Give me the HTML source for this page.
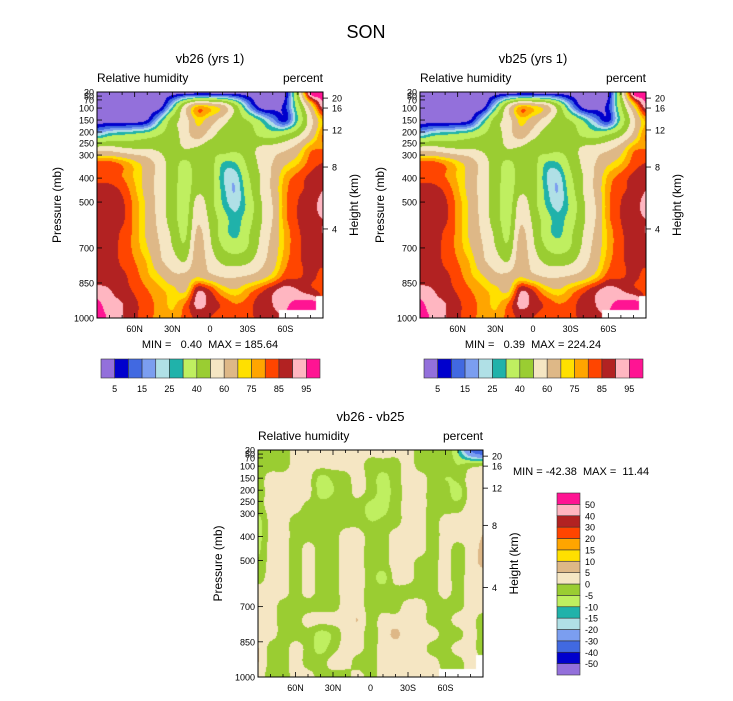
<!DOCTYPE html>
<html><head><meta charset="utf-8"><style>
html,body{margin:0;padding:0;background:#fff;}
#wrap{position:relative;width:733px;height:701px;overflow:hidden;font-family:"Liberation Sans",sans-serif;}
canvas{position:absolute;}
svg{position:absolute;left:0;top:0;}
text{white-space:pre;}
</style></head><body>
<div id="wrap">
<canvas id="c1" width="226" height="226" style="left:97px;top:92px"></canvas>
<canvas id="c2" width="226" height="226" style="left:420px;top:92px"></canvas>
<canvas id="c3" width="225" height="227" style="left:258px;top:450px"></canvas>
<svg id="s" width="733" height="701"></svg>
</div>
<script>
// ---- data ----
const latTicks=["60N","30N","0","30S","60S"];
const latTickVals=[60,30,0,-30,-60];
const presLabels=["30","50","70","100","150","200","250","300","400","500","700","850","1000"];
const presFrac=[0,0.018,0.035,0.071,0.124,0.177,0.226,0.279,0.381,0.487,0.690,0.845,1];
const hgtLabels=["20","16","12","8","4"];
const hgtFrac=[0.027,0.071,0.168,0.332,0.606];
const rhLevels=[5,10,15,20,25,30,40,50,60,70,75,80,85,90,95];
const rhColors=["#9370db","#0000cd","#4169e1","#7b9ef0","#b0e0e6","#20b2aa","#bfef60","#9acd32","#f5e6c3","#deb887","#ffe000","#ffa500","#ff4500","#b22222","#ffb6c1","#ff1493"];
const rhCbLabels=["5","15","25","40","60","75","85","95"];
const dLevels=[-50,-40,-30,-20,-15,-10,-5,0,5,10,15,20,30,40,50];
const dCbLabels=["-50","-40","-30","-20","-15","-10","-5","0","5","10","15","20","30","40","50"];
const statsA="MIN =   0.40  MAX = 185.64";
const statsB="MIN =   0.39  MAX = 224.24";
const statsD="MIN = -42.38  MAX =  11.44";
const N=null;
const rhA=[
[2,2,2,2,2,2,2,2,2,2,2,2,2,2,2,3,45,97,97],
[2,2,2,2,2,3,25,55,75,72,65,45,20,3,2,8,35,65,92],
[2,2,2,2,6,25,45,55,72,65,55,45,40,30,18,8,30,55,75],
[22,28,30,32,35,40,45,55,65,55,45,42,45,38,35,40,48,62,80],
[55,55,52,50,50,48,45,50,48,42,45,42,45,52,55,58,65,78,80],
[82,82,78,72,65,55,45,38,45,45,30,30,42,52,60,68,74,82,85],
[84,83,80,74,66,55,45,36,44,45,26,22,38,50,62,76,82,86,88],
[86,87,84,76,66,55,45,34,48,44,28,20,35,50,62,78,84,86,90],
[86,88,86,78,68,55,45,34,55,45,30,23,32,48,60,78,85,87,92],
[87,88,86,78,68,56,45,36,58,48,35,27,35,48,60,78,85,88,90],
[87,87,84,78,68,58,48,38,62,50,35,28,38,50,62,76,84,87,90],
[87,86,84,78,70,60,50,42,65,52,40,35,40,52,64,76,84,86,88],
[88,87,84,80,74,62,55,50,66,56,48,46,48,56,66,78,84,86,86],
[86,87,86,82,76,70,62,62,68,62,58,58,60,64,72,82,84,86,84],
[92,90,87,84,80,76,72,68,88,84,74,70,76,82,88,92,90,86,84],
[96,92,90,86,82,78,74,80,92,88,84,80,82,88,90,94,96,97,N],
[97,94,90,86,82,78,76,82,86,85,82,82,84,86,88,N,N,N,N]];
const rhB=[
[2,2,2,2,2,2,2,2,2,2,2,2,2,2,2,3,45,97,97],
[2,2,2,2,2,3,25,55,75,72,65,45,20,3,2,8,38,68,93],
[2,2,2,2,6,25,45,55,72,65,55,45,40,30,18,8,32,56,76],
[22,28,30,32,35,40,45,55,65,55,45,42,45,38,35,40,48,62,80],
[55,55,52,50,50,48,45,50,48,42,45,42,45,52,55,58,65,78,80],
[82,82,78,72,65,55,45,38,45,45,30,30,42,52,60,68,74,82,85],
[84,83,80,74,66,55,45,36,44,45,26,22,38,50,62,76,82,86,88],
[86,87,84,76,66,55,45,34,48,44,28,20,35,50,62,78,84,86,90],
[86,88,86,78,68,55,45,34,55,45,30,23,32,48,60,78,85,87,92],
[87,88,86,78,68,56,45,36,58,48,35,27,35,48,60,78,85,88,90],
[87,87,84,78,68,58,48,38,62,50,35,28,38,50,62,76,84,87,90],
[87,86,84,78,70,60,50,42,65,52,40,35,40,52,64,76,84,86,88],
[88,87,84,80,74,62,55,50,66,56,48,46,48,56,66,78,84,86,86],
[86,87,86,82,76,70,62,62,68,62,58,58,60,64,72,82,84,86,84],
[92,90,87,84,80,76,72,68,88,84,74,70,76,82,88,92,90,86,84],
[96,92,90,86,82,78,74,80,92,88,84,80,82,88,90,94,96,97,N],
[97,94,90,86,82,78,76,82,86,85,82,82,84,86,88,N,N,N,N]];
const diff=[
[-2,-2,-2,2,2,2,2,2,2,2,2,2,2,-2,-2,-2,-10,-30,-40],
[-2,-2,-2,2,2,2,2,2,2,-2,-2,-2,2,-2,-2,-2,-5,-3,-2],
[-2,2,2,2,2,-7,-4,-2,2,-2,-7,-2,2,2,-2,-5,-4,2,2],
[-2,2,2,4,2,-7,-5,-2,1,-2,-7,-3,2,2,-2,-2,-8,2,2],
[-2,2,2,2,-2,-2,-2,-2,-2,-7,-7,-2,2,2,-2,-2,-2,2,4],
[-7,2,2,-2,-2,-2,-2,-2,-2,-5,-4,-2,2,2,-2,2,2,2,4],
[-7,2,2,-2,-2,-2,-2,2,2,-2,-2,2,2,2,-2,2,2,2,5],
[-6,2,2,-2,2,-2,-2,2,2,-2,-2,2,2,2,-2,2,-2,2,6],
[-4,2,2,-2,2,-2,-2,2,2,-2,-2,2,2,-2,-2,2,-2,2,6],
[-2,2,2,-2,2,-2,-2,2,2,-2,-7,2,2,-2,-2,2,-2,2,2],
[2,2,2,-2,2,-2,-2,2,2,-2,-2,-2,-2,-2,-2,2,-2,2,2],
[2,2,-2,-2,-2,-2,-2,2,2,-2,-2,-2,2,2,-2,-2,-2,2,2],
[2,2,-2,-2,2,2,2,2,5,-2,2,2,2,2,-2,-2,2,2,-2],
[2,2,-2,-2,-2,-7,-4,2,2,-2,2,6,2,2,2,-2,-2,2,-2],
[5,-2,-2,2,-2,-7,-2,2,2,-2,2,2,2,2,-2,-2,2,2,-2],
[5,-2,-2,2,-2,-2,2,2,-2,-2,2,2,2,2,2,-2,-2,2,N],
[2,-2,-2,2,2,-2,-2,-2,2,-2,2,2,2,2,2,N,N,N,N]];

// ---- render fields ----
function hex(c){return [parseInt(c.slice(1,3),16),parseInt(c.slice(3,5),16),parseInt(c.slice(5,7),16)];}
function classify(v,levels){let i=0;while(i<levels.length&&v>=levels[i])i++;return i;}
function cr(t){t=Math.abs(t);return t<1?1.5*t*t*t-2.5*t*t+1:(t<2?-0.5*t*t*t+2.5*t*t-4*t+2:0);}
function drawField(id,grid,levels,colors){
  const cv=document.getElementById(id),ctx=cv.getContext('2d');
  const W=cv.width,H=cv.height,img=ctx.createImageData(W,H);
  const R=grid.length,C=grid[0].length,rgb=colors.map(hex);
  for(let y=0;y<H;y++)for(let x=0;x<W;x++){
    const gx=x/(W-1)*(C-1),gy=y/(H-1)*(R-1);
    const nx=Math.round(gx),ny=Math.round(gy);
    const p=(y*W+x)*4;
    if(grid[ny][nx]===null){img.data[p]=255;img.data[p+1]=255;img.data[p+2]=255;img.data[p+3]=255;continue;}
    const x0=Math.floor(gx),y0=Math.floor(gy);let s=0,w=0;
    for(let j=y0-1;j<=y0+2;j++)for(let i=x0-1;i<=x0+2;i++){
      const ii=Math.max(0,Math.min(C-1,i)),jj=Math.max(0,Math.min(R-1,j));
      const v=grid[jj][ii];if(v===null)continue;
      const k=cr(gx-i)*cr(gy-j);s+=v*k;w+=k;}
    const c=rgb[classify(s/w,levels)];
    img.data[p]=c[0];img.data[p+1]=c[1];img.data[p+2]=c[2];img.data[p+3]=255;
  }
  ctx.putImageData(img,0,0);
}
drawField('c1',rhA,rhLevels,rhColors);
drawField('c2',rhB,rhLevels,rhColors);
drawField('c3',diff,dLevels,rhColors);

// ---- annotations ----
const S=document.getElementById('s'),NS="http://www.w3.org/2000/svg";
function el(tag,attrs,txt){const e=document.createElementNS(NS,tag);for(const k in attrs)e.setAttribute(k,attrs[k]);if(txt!==undefined)e.textContent=txt;S.appendChild(e);return e;}
function T(x,y,s,size,anchor,name,rot){const a={x:x,y:y,'font-size':size,'text-anchor':anchor||'start','font-family':'Liberation Sans, sans-serif',fill:'#000'};if(rot)a.transform='rotate(-90 '+x+' '+y+')';const e=el('text',a,s);

return e;}
T(366,38,"SON",18,'middle','figure-title');
function panel(L,Tp,W,H,title,pfx){
  const xs=lat=>L+(90-lat)/180*W, ys=f=>Tp+f*H;
  T(L+W/2,Tp-29,title,13,'middle',pfx+'-title');
  T(L,Tp-10,"Relative humidity",12,'start',pfx+'-left-string');
  T(L+W,Tp-10,"percent",12,'end',pfx+'-right-string');
  const fr=el('rect',{x:L,y:Tp,width:W,height:H,fill:'none',stroke:'#000','stroke-width':1});
  
  
  for(let lat=80;lat>=-80;lat-=10){const x=xs(lat),len=(lat%30===0)?5:3;
    el('line',{x1:x,y1:Tp+H,x2:x,y2:Tp+H-len,stroke:'#000','stroke-width':0.8});
    el('line',{x1:x,y1:Tp,x2:x,y2:Tp+len,stroke:'#000','stroke-width':0.8});}
  latTicks.forEach((s,i)=>T(xs(latTickVals[i]),Tp+H+14,s,9,'middle',pfx+'-x-tick-label'));
  presLabels.forEach((s,i)=>{const y=ys(presFrac[i]);el('line',{x1:L,y1:y,x2:L+5,y2:y,stroke:'#000','stroke-width':0.8});T(L-3,y+3.5,s,9,'end',pfx+'-y-tick-label');});
  hgtLabels.forEach((s,i)=>{const y=ys(hgtFrac[i]);el('line',{x1:L+W,y1:y,x2:L+W+5,y2:y,stroke:'#000','stroke-width':0.8});T(L+W+9,y+3.5,s,9,'start',pfx+'-height-tick-label');});
  T(L-36,Tp+H/2,"Pressure (mb)",12,'middle',pfx+'-y-axis-title',true);
  T(L+W+35,Tp+H/2,"Height (km)",12,'middle',pfx+'-height-axis-title',true);
}
panel(97,92,226,226,"vb26 (yrs 1)","vb26");
panel(420,92,226,226,"vb25 (yrs 1)","vb25");
panel(258,450,225,227,"vb26 - vb25","diff");
T(210,348,statsA,11,'middle','vb26-min-max');
T(533,348,statsB,11,'middle','vb25-min-max');
T(513,475,statsD,11,'start','diff-min-max');
function hbar(L,Tp,W,H,pfx){
  const bw=W/rhColors.length;
  rhColors.forEach((c,i)=>{const r=el('rect',{x:L+i*bw,y:Tp,width:bw,height:H,fill:c,stroke:'#333','stroke-width':0.6});
  
  });
  rhCbLabels.forEach((s,i)=>T(L+(2*i+1)*bw,Tp+H+14,s,9,'middle',pfx+'-colorbar-label'));
}
hbar(101,359,219,19,'vb26');
hbar(424,359,219,19,'vb25');
(function(){const L=557,Tp=493,W=23,H=182,n=rhColors.length,bh=H/n;
  for(let i=0;i<n;i++){const r=el('rect',{x:L,y:Tp+H-(i+1)*bh,width:W,height:bh,fill:rhColors[i],stroke:'#333','stroke-width':0.6});
  
  }
  dCbLabels.forEach((s,i)=>T(L+W+5,Tp+H-(i+1)*bh+3.5,s,9,'start','diff-colorbar-label'));
})();
</script>
</body></html>
